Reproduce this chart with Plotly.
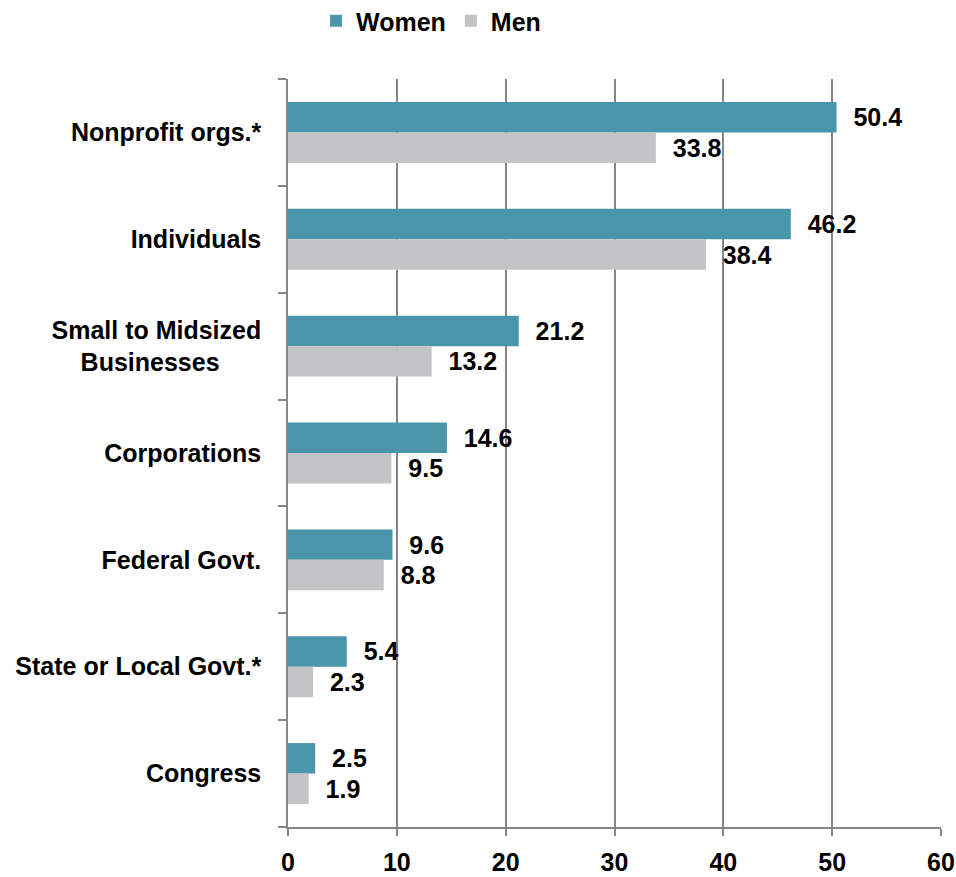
import plotly.graph_objects as go

categories = ["Nonprofit orgs.*", "Individuals", "Small to Midsized<br>Businesses\u00a0\u00a0\u00a0\u00a0\u00a0\u00a0",
              "Corporations", "Federal Govt.", "State or Local Govt.*", "Congress"]
women = [50.4, 46.2, 21.2, 14.6, 9.6, 5.4, 2.5]
men = [33.8, 38.4, 13.2, 9.5, 8.8, 2.3, 1.9]
x_ticks = [0, 10, 20, 30, 40, 50, 60]

FONT = "Liberation Sans, Arial, sans-serif"
FS = 25
pad = "\u00a0\u00a0"

fig = go.Figure()
for name, vals, col in [("Women", women, "#4A95A9"), ("Men", men, "#C4C4C6")]:
    fig.add_trace(go.Bar(
        name=f"<b>{name}</b>", y=categories, x=vals, orientation="h",
        marker=dict(color=col, line=dict(width=0)),
        text=["<b>" + pad + f"{v:.1f}" + "</b>" for v in vals], textposition="outside",
        textfont=dict(family=FONT, size=FS, color="#000000"),
        constraintext="none", cliponaxis=False,
    ))

W, H = 956, 877
L, T, R, B = 288, 79, 15, 50
PH = H - T - B

fig.update_layout(
    width=W, height=H,
    margin=dict(l=L, r=R, t=T, b=B, autoexpand=False),
    barmode="group", bargap=0.43, bargroupgap=0,
    plot_bgcolor="white", paper_bgcolor="white",
    font=dict(family=FONT, size=FS, color="#000000"),
    legend=dict(orientation="h", x=(431 - L) / (W - L - R), xref="paper", xanchor="center",
                y=1 + (T + 2) / PH, yref="paper", yanchor="top",
                font=dict(family=FONT, size=FS, color="#000000"),
                itemwidth=30, tracegroupgap=0, bgcolor="rgba(0,0,0,0)"),
    showlegend=True,
)
fig.update_xaxes(
    range=[0, 60], tickvals=x_ticks, ticktext=[f"<b>{t}</b>" for t in x_ticks],
    showgrid=True, gridcolor="#868686", gridwidth=1.5,
    showline=True, linecolor="#868686", linewidth=1.5,
    ticks="outside", ticklen=7, tickcolor="#868686", tickwidth=1.5,
    tickfont=dict(family=FONT, size=FS, color="#000000"),
    zeroline=False, fixedrange=True, automargin=False, ticklabelstandoff=5,
)
fig.update_yaxes(
    categoryorder="array", categoryarray=categories, autorange="reversed",
    tickvals=categories, ticktext=[f"<b>{c}</b>" for c in categories],
    tickson="boundaries", ticks="outside", ticklen=8, tickcolor="#868686", tickwidth=1.5,
    showline=True, linecolor="#868686", linewidth=1.5,
    showgrid=False, zeroline=False, ticklabelstandoff=20, automargin=False,
    tickfont=dict(family=FONT, size=FS, color="#000000"),
)

fig.write_html("out.html", config={"displayModeBar": False},
               post_script="document.body.style.margin='0';document.body.style.overflow='hidden';")
